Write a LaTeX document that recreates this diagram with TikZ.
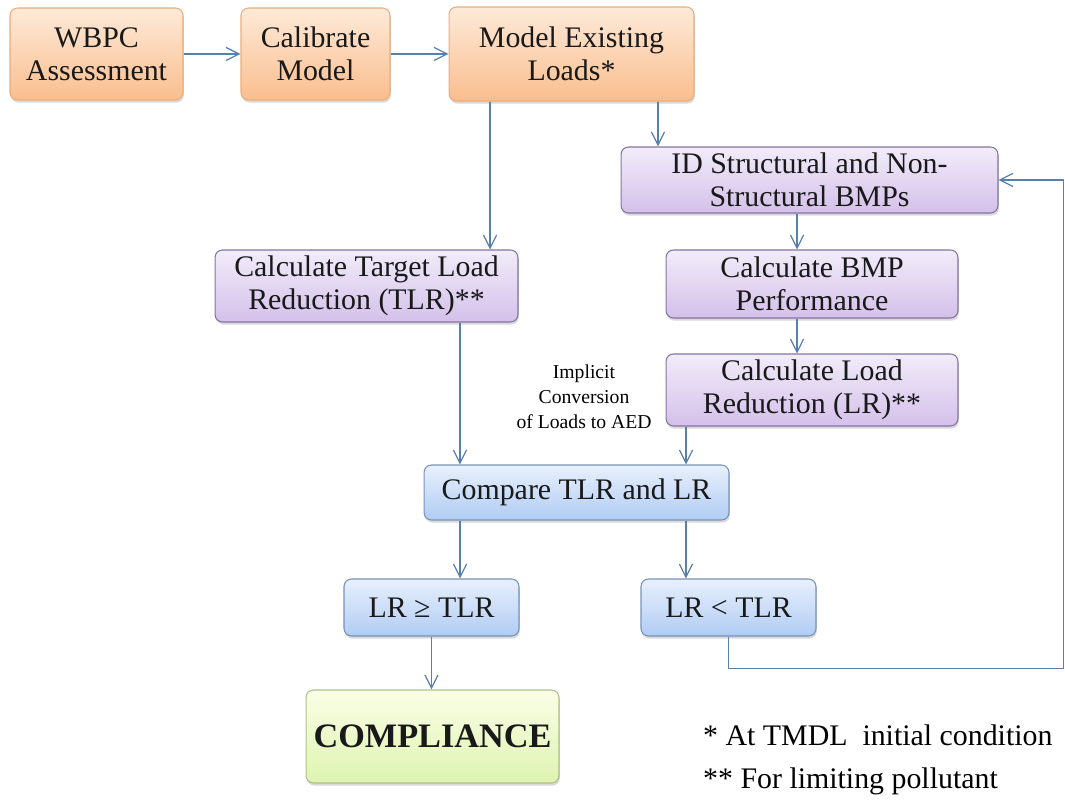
\documentclass[tikz,border=0pt]{standalone}
\usepackage{fontspec}
\setmainfont{Liberation Serif}
\usetikzlibrary{arrows.meta,shadows}

\definecolor{OrangeTop}{RGB}{254,234,216}
\definecolor{OrangeBot}{RGB}{250,190,142}
\definecolor{OrangeLine}{RGB}{238,172,120}
\definecolor{PurpleTop}{RGB}{242,236,250}
\definecolor{PurpleBot}{RGB}{212,192,234}
\definecolor{PurpleLine}{RGB}{132,116,162}
\definecolor{BlueTop}{RGB}{232,240,253}
\definecolor{BlueBot}{RGB}{176,204,244}
\definecolor{BlueLine}{RGB}{120,146,182}
\definecolor{GreenTop}{RGB}{250,254,230}
\definecolor{GreenBot}{RGB}{222,244,176}
\definecolor{GreenLine}{RGB}{176,192,138}
\definecolor{LinkBlue}{RGB}{88,128,172}

\begin{document}
\begin{tikzpicture}[
        %Environment config
        x=0.02cm, y=-0.02cm,
        font=\fontsize{17}{19}\selectfont,
        %Environment styles
        BoxCfg/.style={
            draw, rounded corners=0.15cm, align=center,
            inner sep=0pt, line width=0.6pt, text=black!90,
            drop shadow={shadow xshift=0.5pt,shadow yshift=-1.5pt,opacity=0.3}
        },
        OrangeCfg/.style={BoxCfg, draw=OrangeLine, top color=OrangeTop, bottom color=OrangeBot},
        PurpleCfg/.style={BoxCfg, draw=PurpleLine, top color=PurpleTop, bottom color=PurpleBot},
        BlueCfg/.style={BoxCfg, draw=BlueLine, top color=BlueTop, bottom color=BlueBot},
        GreenCfg/.style={BoxCfg, draw=GreenLine, top color=GreenTop, bottom color=GreenBot},
        LinkCfg/.style={draw=LinkBlue, line width=0.7pt, -{Straight Barb[length=7.5pt,width=7.5pt]}}
    ]
    \useasboundingbox (0,0) rectangle (1065,800);

    \path
        (96.5,54) node[OrangeCfg, minimum width=3.46cm, minimum height=1.84cm](WBPC){WBPC\\Assessment}
        (315.5,54) node[OrangeCfg, minimum width=2.98cm, minimum height=1.84cm](CAL){Calibrate\\Model}
        (571.5,54) node[OrangeCfg, minimum width=4.9cm, minimum height=1.88cm](MEL){Model Existing\\Loads*}
        (809.5,180) node[PurpleCfg, minimum width=7.54cm, minimum height=1.32cm](IDB){ID Structural and Non-\\Structural BMPs}
        (366.5,286) node[PurpleCfg, minimum width=6.06cm, minimum height=1.44cm](TLR){Calculate Target Load\\Reduction (TLR)**}
        (812,284) node[PurpleCfg, minimum width=5.84cm, minimum height=1.36cm](BMP){Calculate BMP\\Performance}
        (812,390) node[PurpleCfg, minimum width=5.84cm, minimum height=1.44cm](LR){Calculate Load\\Reduction (LR)**}
        (576.5,492.5) node[BlueCfg, minimum width=6.1cm, minimum height=1.1cm](CMP){Compare TLR and LR}
        (431.5,607.5) node[BlueCfg, minimum width=3.5cm, minimum height=1.14cm](GE){LR ≥ TLR}
        (728.5,607.5) node[BlueCfg, minimum width=3.5cm, minimum height=1.14cm](LT){LR < TLR}
        (432.5,736.5) node[GreenCfg, minimum width=5.06cm, minimum height=1.86cm,
            font=\fontsize{19.5}{22}\selectfont\bfseries](COMP){COMPLIANCE}
        (584,397) node[align=center, font=\fontsize{11.2}{14.2}\selectfont](conv){Implicit\\Conversion\\of Loads to AED}
        (697,735) node[anchor=west](note1){* At TMDL\ \ initial condition}
        (697,781) node[anchor=west](note2){** For limiting pollutant};

    \path
        (WBPC.east) edge[LinkCfg] (CAL.west)
        (CAL.east) edge[LinkCfg] (MEL.west)
        ([xshift=-1.63cm]MEL.south) edge[LinkCfg] ([xshift=-1.63cm]MEL.south |- TLR.north)
        ([xshift=1.73cm]MEL.south) edge[LinkCfg] ([xshift=1.73cm]MEL.south |- IDB.north)
        ([xshift=-0.25cm]IDB.south) edge[LinkCfg] ([xshift=-0.25cm]IDB.south |- BMP.north)
        ([xshift=-0.3cm]BMP.south) edge[LinkCfg] ([xshift=-0.3cm]BMP.south |- LR.north)
        ([xshift=1.87cm]TLR.south) edge[LinkCfg] ([xshift=1.87cm]TLR.south |- CMP.north)
        ([xshift=-2.52cm]LR.south) edge[LinkCfg] ([xshift=-2.52cm]LR.south |- CMP.north)
        ([xshift=-2.33cm]CMP.south) edge[LinkCfg] ([xshift=-2.33cm]CMP.south |- GE.north)
        ([xshift=2.19cm]CMP.south) edge[LinkCfg] ([xshift=2.19cm]CMP.south |- LT.north)
        (GE.south) edge[LinkCfg] (GE.south |- COMP.north);
    \draw[LinkCfg]
        (LT.south) -- ++(0,-0.64cm) -| ([xshift=1.3cm]IDB.east) -- (IDB.east);
\end{tikzpicture}
\end{document}
